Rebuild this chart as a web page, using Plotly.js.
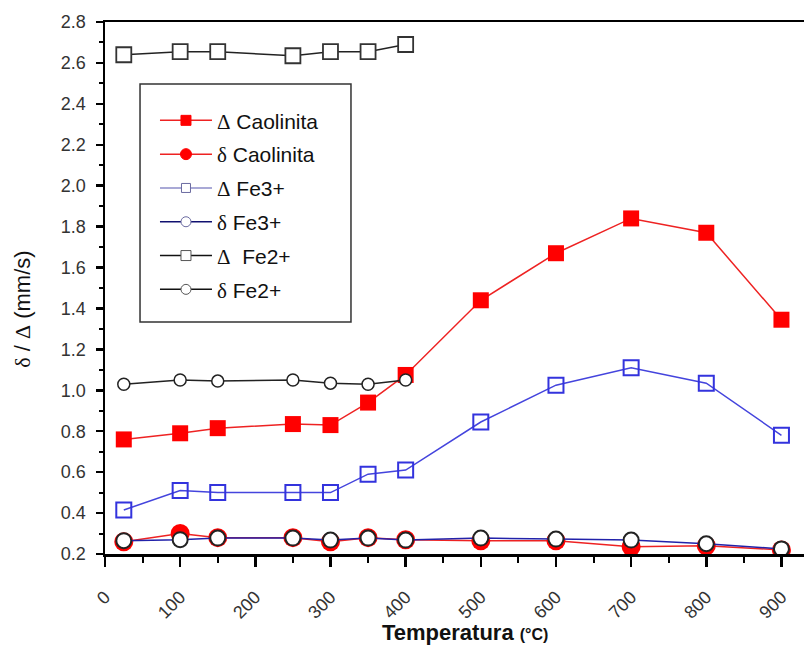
<!DOCTYPE html>
<html>
<head>
<meta charset="utf-8">
<script src="https://cdn.plot.ly/plotly-3.0.1.min.js"></script>
<style>html,body{margin:0;padding:0;background:#fff;}#chart{width:804px;height:647px;}</style>
</head>
<body>
<div id="chart"></div>
<script>
// Temperatures (°C)
const temps = [25, 100, 150, 250, 300, 350, 400, 500, 600, 700, 800, 900];
const tempsFe2 = [25, 100, 150, 250, 300, 350, 400];

// Series values (mm/s)
const deltaCaolinita = [0.76, 0.79, 0.815, 0.835, 0.83, 0.94, 1.075, 1.44, 1.67, 1.84, 1.77, 1.345];
const dCaolinita     = [0.26, 0.30, 0.28, 0.28, 0.26, 0.28, 0.27, 0.265, 0.265, 0.235, 0.24, 0.22];
const deltaFe3       = [0.415, 0.51, 0.50, 0.50, 0.50, 0.59, 0.61, 0.845, 1.025, 1.11, 1.035, 0.78];
const dFe3           = [0.265, 0.27, 0.278, 0.278, 0.268, 0.278, 0.268, 0.278, 0.273, 0.268, 0.25, 0.225];
const deltaFe2       = [2.64, 2.655, 2.655, 2.635, 2.655, 2.655, 2.69];
const dFe2           = [1.03, 1.05, 1.045, 1.05, 1.035, 1.03, 1.05];

// Series names
const serif = s => "<span style=\"font-family:'Liberation Serif'\">" + s + "</span>";
const names = [
  serif('Δ') + ' Caolinita', serif('δ') + ' Caolinita',
  serif('Δ') + ' Fe3+', serif('δ') + ' Fe3+',
  serif('Δ') + '  Fe2+', serif('δ') + ' Fe2+'
];

// Tick labels
const yTickVals = [0.2, 0.4, 0.6, 0.8, 1.0, 1.2, 1.4, 1.6, 1.8, 2.0, 2.2, 2.4, 2.6, 2.8];
const yTickText = yTickVals.map(v => v.toFixed(1));
const xTickVals = [0, 100, 200, 300, 400, 500, 600, 700, 800, 900];
const xTickText = xTickVals.map(String);

const dataTraces = [
  {x: temps, y: deltaCaolinita, mode: 'lines+markers', showlegend: false,
   line: {color: '#ee2222', width: 1.5},
   marker: {symbol: 'square', size: 16, color: '#ff0000', line: {width: 0}}},
  {x: temps, y: dCaolinita, mode: 'lines+markers', showlegend: false,
   line: {color: '#ee2222', width: 1.5},
   marker: {symbol: 'circle', size: 19, color: '#ff0000', line: {width: 0}}},
  {x: temps, y: deltaFe3, mode: 'lines+markers', showlegend: false,
   line: {color: '#4444dd', width: 1.5},
   marker: {symbol: 'square-open', size: 15, color: '#3333dd', line: {width: 2}}},
  {x: temps, y: dFe3, mode: 'lines+markers', showlegend: false,
   line: {color: '#2222aa', width: 1.5},
   marker: {symbol: 'circle', size: 15, color: '#ffffff', line: {width: 2, color: '#222222'}}},
  {x: tempsFe2, y: deltaFe2, mode: 'lines+markers', showlegend: false,
   line: {color: '#222222', width: 1.5},
   marker: {symbol: 'square', size: 15, color: '#ffffff', line: {width: 1.8, color: '#333333'}}},
  {x: tempsFe2, y: dFe2, mode: 'lines+markers', showlegend: false,
   line: {color: '#222222', width: 1.5},
   marker: {symbol: 'circle', size: 12, color: '#ffffff', line: {width: 1.5, color: '#222222'}}}
];

// Legend-only entries (styled like the reference's legend symbols)
const legendStyles = [
  {line: '#ee2222', sym: 'square', size: 10, fill: '#ff0000', lc: '#ff0000'},
  {line: '#ee2222', sym: 'circle', size: 11, fill: '#ff0000', lc: '#ff0000'},
  {line: '#8c8cc8', sym: 'square', size: 9, fill: '#ffffff', lc: '#6a6aa0'},
  {line: '#101070', sym: 'circle', size: 10, fill: '#ffffff', lc: '#6a6aa0'},
  {line: '#111111', sym: 'square', size: 10, fill: '#ffffff', lc: '#555555'},
  {line: '#111111', sym: 'circle', size: 10, fill: '#ffffff', lc: '#555555'}
];
const legendTraces = names.map((n, i) => ({
  x: [null], y: [null], name: n, legendgroup: 'g' + i, mode: 'lines+markers',
  line: {color: legendStyles[i].line, width: 1.5},
  marker: {symbol: legendStyles[i].sym, size: legendStyles[i].size, color: legendStyles[i].fill,
           line: {width: 1, color: legendStyles[i].lc}}
}));

const layout = {
  width: 804, height: 647,
  margin: {l: 105, r: 0, t: 22, b: 93},
  paper_bgcolor: '#ffffff', plot_bgcolor: '#ffffff',
  font: {family: 'Liberation Sans, Arial, sans-serif', color: '#222'},
  showlegend: true,
  legend: {
    x: 0.0715, y: 0.853, xanchor: 'left', yanchor: 'top',
    bgcolor: 'rgba(0,0,0,0)', borderwidth: 0,
    font: {size: 21, color: '#111'},
    traceorder: 'grouped', tracegroupgap: 3.5,
    itemwidth: 52
  },
  shapes: [{
    type: 'rect', xref: 'paper', yref: 'paper',
    x0: 0.0501, x1: 0.3519, y0: 0.4361, y1: 0.8835,
    line: {color: '#333333', width: 1.5}, fillcolor: '#ffffff', layer: 'above'
  }],
  annotations: [
    {
      xref: 'paper', yref: 'paper', x: -0.118, y: 0.46, xanchor: 'center', yanchor: 'middle',
      text: serif('δ') + ' / ' + serif('Δ') + ' (mm/s)', textangle: -90, showarrow: false,
      font: {size: 22, color: '#111'}
    },
    {
      xref: 'paper', yref: 'paper', x: 0.515, y: -0.147, xanchor: 'center', yanchor: 'middle',
      text: '<b>Temperatura</b> <b><span style="font-size:16px">(°C)</span></b>', showarrow: false,
      font: {size: 22, color: '#111'}
    }
  ],
  xaxis: {
    range: [0, 930], showgrid: false, zeroline: false,
    showline: true, linecolor: '#000', linewidth: 2.5, mirror: true,
    ticks: 'outside', ticklen: 10, tickwidth: 2.5, tickcolor: '#000',
    tickvals: xTickVals, ticktext: xTickText, tickangle: -45,
    tickfont: {size: 18, color: '#333'}, ticklabelstandoff: 13,
    minor: {dtick: 50, tick0: 0, ticks: 'outside', ticklen: 6, tickwidth: 2, tickcolor: '#000', showgrid: false}
  },
  yaxis: {
    range: [0.2, 2.8], showgrid: false, zeroline: false,
    showline: true, linecolor: '#000', linewidth: 2.5,
    ticks: 'outside', ticklen: 7, tickwidth: 2.5, tickcolor: '#000',
    tickvals: yTickVals, ticktext: yTickText,
    tickfont: {size: 18, color: '#333'}, ticklabelstandoff: 6,
    minor: {dtick: 0.1, tick0: 0.2, ticks: 'outside', ticklen: 4, tickwidth: 2, tickcolor: '#000', showgrid: false}
  }
};

Plotly.newPlot('chart', dataTraces.concat(legendTraces), layout, {displayModeBar: false, staticPlot: true});
</script>
</body>
</html>
